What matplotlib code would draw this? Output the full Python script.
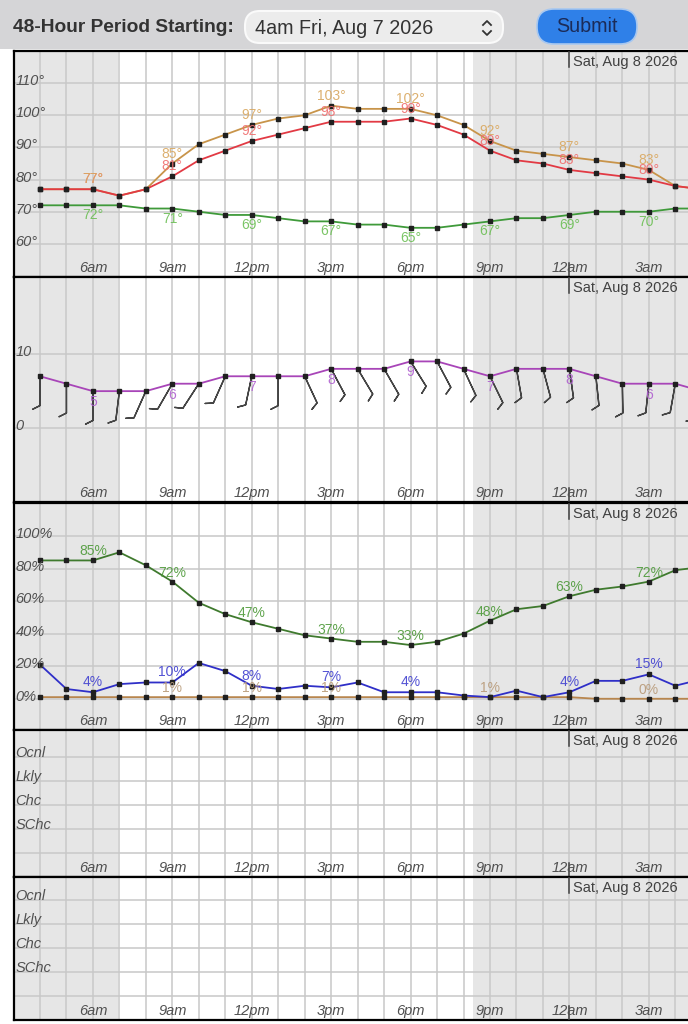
import numpy as np
import matplotlib
matplotlib.use('Agg')
import matplotlib.pyplot as plt
from matplotlib.patches import Rectangle, FancyBboxPatch

plt.rcParams['font.family'] = ['Liberation Sans', 'DejaVu Sans']

# hourly data, 4am Fri -> 5am Sat
hours = np.arange(4, 30)
temperature = [77, 77, 77, 75, 77, 81, 86, 89, 92, 94, 96, 98, 98, 98, 99, 97, 94, 89, 86, 85, 83, 82, 81, 80, 78, 77]
heat_index = [77, 77, 77, 75, 77, 85, 91, 94, 97, 99, 100, 103, 102, 102, 102, 100, 97, 92, 89, 88, 87, 86, 85, 83, 78, 77]
dewpoint = [72, 72, 72, 72, 71, 71, 70, 69, 69, 68, 67, 67, 66, 66, 65, 65, 66, 67, 68, 68, 69, 70, 70, 70, 71, 71]
wind_speed = [7, 6, 5, 5, 5, 6, 6, 7, 7, 7, 7, 8, 8, 8, 9, 9, 8, 7, 8, 8, 8, 7, 6, 6, 6, 5]
wind_dir = [180, 180, 180, 187, 204, 210, 213, 204, 192, 180, 155, 152, 149, 150, 148, 152, 155, 154, 170, 165, 172, 174, 179, 186, 190, 195]
humidity = [85, 85, 85, 90, 82, 72, 59, 52, 47, 43, 39, 37, 35, 35, 33, 35, 40, 48, 55, 57, 63, 67, 69, 72, 79, 81]
sky_cover = [21, 6, 4, 9, 10, 10, 22, 17, 8, 6, 8, 7, 10, 4, 4, 4, 2, 1, 5, 1, 4, 11, 11, 15, 8, 12]
precip = [1] * 21 + [0] * 5

tick_hours = [6, 9, 12, 15, 18, 21, 24, 27]
tick_labels = ['6am', '9am', '12pm', '3pm', '6pm', '9pm', '12am', '3am']
chance_labels = ['Ocnl', 'Lkly', 'Chc', 'SChc']
date_label = 'Sat, Aug 8 2026'

X0, X1 = 3, 28.48
SUNRISE, SUNSET = 6.95, 20.36
W, H = 688, 1024

NIGHT = '#e6e6e6'
GRID = '#c8c8c8'
LABEL = '#505050'

fig = plt.figure(figsize=(W / 100, H / 100), dpi=100)


def px_axes(x0, y0, x1, y1):
    return fig.add_axes([x0 / W, 1 - y1 / H, (x1 - x0) / W, (y1 - y0) / H])


def setup(ax, ylim, grid_y, ylabels):
    ax.set_xlim(X0, X1)
    ax.set_ylim(*ylim)
    ax.axvspan(X0, SUNRISE, color=NIGHT, lw=0, zorder=0)
    ax.axvspan(SUNSET, X1, color=NIGHT, lw=0, zorder=0)
    for h in range(4, 29):
        ax.axvline(h, color=GRID, lw=1.1, zorder=1)
    for y in grid_y:
        ax.axhline(y, color=GRID, lw=1.1, zorder=1)
    ax.set_xticks([])
    ax.set_yticks([])
    for s in ['left', 'top', 'bottom']:
        ax.spines[s].set_linewidth(1.6)
        ax.spines[s].set_color('black')
    ax.spines['right'].set_visible(False)
    for h, lab in zip(tick_hours, tick_labels):
        ax.annotate(lab, xy=(h, 0), xycoords=('data', 'axes fraction'), xytext=(0, 9),
                    textcoords='offset pixels', ha='center', va='center',
                    fontsize=10.5, style='italic', color=LABEL, zorder=5)
    for y, lab in ylabels:
        ax.annotate(lab, xy=(0, y), xycoords=('axes fraction', 'data'), xytext=(2, 2),
                    textcoords='offset pixels', ha='left', va='center',
                    fontsize=10.5, style='italic', color=LABEL, zorder=5)
    # midnight marks and date
    trans = ax.get_xaxis_transform()
    fr = 16 / (ax.get_position().height * H)
    ax.plot([24, 24], [1, 1 - fr], transform=trans, color='#404040', lw=1.1, zorder=4)
    ax.plot([24, 24], [0, fr * 0.9], transform=trans, color='#404040', lw=1.1, zorder=4)
    ax.annotate(date_label, xy=(24, 1), xycoords=('data', 'axes fraction'), xytext=(4, -11),
                textcoords='offset pixels', ha='left', va='center', fontsize=10.5, color='#404040')


def series(ax, y, color, lw=1.3):
    ax.plot(hours, y, color=color, lw=lw, zorder=3, marker='s', markersize=3.4,
            markerfacecolor='#202020', markeredgecolor='#202020')


def labels(ax, y, color, dy, fmt, skip=()):
    for h, v in zip(hours, y):
        if h in tick_hours and h not in skip:
            ax.annotate(fmt.format(v), xy=(h, v), xytext=(0, dy), textcoords='offset pixels',
                        ha='center', va='center', fontsize=10, color=color, zorder=6, alpha=0.9)


# header
hdr = px_axes(0, 0, W, 49)
hdr.set_xlim(0, W)
hdr.set_ylim(49, 0)
hdr.set_axis_off()
hdr.add_patch(Rectangle((0, 0), W, 49, fc='#d5d5d7', ec='none'))
hdr.text(13, 28, '48-Hour Period Starting:', fontsize=13.8, fontweight='bold', color='#333333',
         ha='left', va='center')
hdr.add_patch(FancyBboxPatch((245, 11), 258, 32, boxstyle='round,pad=0,rounding_size=15',
                             fc='#ececec', ec='#fafafa', lw=1.5))
hdr.text(255, 28, '4am Fri, Aug 7 2026', fontsize=14.2, color='#333333', ha='left', va='center')
hdr.plot([483, 487, 491], [25, 21, 25], color='#333333', lw=1.3)
hdr.plot([483, 487, 491], [31, 35, 31], color='#333333', lw=1.3)
hdr.add_patch(FancyBboxPatch((537, 9), 100, 35, boxstyle='round,pad=0,rounding_size=17',
                             fc='#2f80e8', ec='#a8c8f0', lw=1.2))
hdr.text(587, 27, 'Submit', fontsize=14.2, color='#1b2b58', ha='center', va='center')

# panel 1: temperatures
ax1 = px_axes(13.5, 51, W, 277)
setup(ax1, (49.7, 120), range(60, 121, 10),
      [(v, f'{v}\u00b0') for v in range(110, 59, -10)])
series(ax1, heat_index, '#c8944a')
series(ax1, temperature, '#e23a44')
series(ax1, dewpoint, '#3f9a3a')
labels(ax1, temperature, '#f06e6e', 10, '{}\u00b0')
labels(ax1, heat_index, '#d9a860', 10, '{}\u00b0')
labels(ax1, dewpoint, '#6cbf55', -10, '{}\u00b0')

# panel 2: wind
ax2 = px_axes(13.5, 277, W, 502)
setup(ax2, (-9.92, 20.36), [0, 10], [(10, '10'), (0, '0')])
series(ax2, wind_speed, '#a845b8')
ws = np.array(wind_speed, float)
wd = np.radians(wind_dir)
u = -ws * np.sin(wd)
v = -ws * np.cos(wd)
ax2.barbs(hours, wind_speed, u, v, length=6.5, pivot='tip', color='#454545', lw=1.0,
          barb_increments=dict(half=5, full=5, flag=50), rounding=False,
          sizes=dict(height=0.25, spacing=0.12), zorder=2)
labels(ax2, wind_speed, '#b060d0', -11, '{}')

# panel 3: humidity, sky cover, precip
ax3 = px_axes(13.5, 503, W, 730)
setup(ax3, (-19.2, 120.3), range(0, 121, 20), [(v, f'{v}%') for v in range(100, -1, -20)])
series(ax3, precip, '#b8864e')
series(ax3, humidity, '#3f7a2e')
series(ax3, sky_cover, '#2f2fc8')
# precip labels hidden where the sky-cover label sits on top of them
hidden = [h for h, s, p in zip(hours, sky_cover, precip) if 0 < abs(s - p) < 5 or s == p]
labels(ax3, precip, '#b89a78', 9, '{}%', skip=[h for h in hidden if h != 21])
labels(ax3, humidity, '#4e9a3a', 9, '{}%')
labels(ax3, sky_cover, '#4040d0', 10, '{}%', skip=[21])

# panels 4 and 5: empty chance grids
for top, bot in [(730, 877), (877, 1020)]:
    ax = px_axes(13.5, top, W, bot)
    ymax = (bot - top) / 24
    setup(ax, (0, ymax), range(1, 6), [(k + 0.1, lab) for k, lab in zip([5, 4, 3, 2], chance_labels)])

fig.savefig('out.png', dpi=100, facecolor='white')
